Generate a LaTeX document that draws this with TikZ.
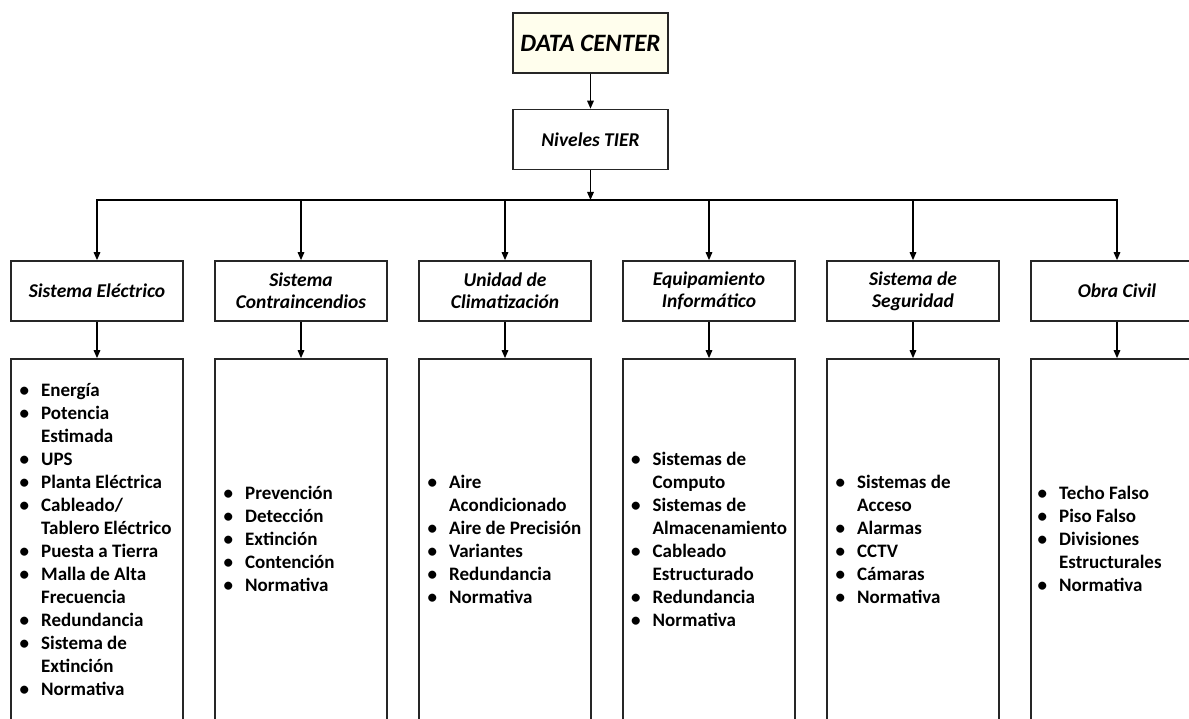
\documentclass[tikz,border=0pt]{standalone}
\usepackage{fontspec}
\setmainfont{Carlito}
\usetikzlibrary{arrows.meta}

\begin{document}
\begin{tikzpicture}[>={Triangle[length=8pt,width=6.5pt]}, x=1pt, y=1pt,
    box/.style={draw=black!85, line width=1.6pt, fill=white, minimum width=172pt, minimum height=60pt, align=center, inner sep=2pt, font=\fontsize{19.5}{22}\selectfont\bfseries\itshape},
    listbox/.style={draw=black!85, line width=1.6pt, minimum width=172pt, minimum height=364pt},
    items/.style={anchor=west, inner sep=0pt, font=\fontsize{19}{23}\selectfont\bfseries},
    link/.style={->, line width=1.5pt}]
    \useasboundingbox (0,0) rectangle (1189,-719);
    \clip (0,0) rectangle (1189,-719);

    % Top of the tree
    \node[box, minimum width=155pt, fill=yellow!7, font=\fontsize{25}{28}\selectfont\bfseries\itshape] (dc) at (590.5,-43) {DATA CENTER};
    \node[box, minimum width=155pt] (tier) at (590.5,-139.5) {Niveles TIER};
    \coordinate (bus) at (590.5,-200);
    \draw[link] (dc) -- (tier);
    \draw[link] (tier) -- (bus);

    % Subsystems
    \foreach \i/\hd in {0/{Sistema Eléctrico}, 1/{Sistema\\Contraincendios}, 2/{Unidad de\\Climatización},
                        3/{Equipamiento\\Informático}, 4/{Sistema de\\Seguridad}, 5/{Obra Civil}} {
        \node[box] (hd\i) at (97+204*\i,-291) {\hd};
        \node[listbox] (lb\i) at (97+204*\i,-541) {};
        \draw[link] (bus) -| (hd\i);
        \draw[link] (hd\i) -- (lb\i);
    }

    % Contents of each subsystem
    \node[items] (it0) at (19.5,-541) {\begin{tabular}{@{}l@{\hspace{12pt}}l@{}}
        \textbullet & Energía\\
        \textbullet & Potencia\\ & Estimada\\
        \textbullet & UPS\\
        \textbullet & Planta Eléctrica\\
        \textbullet & Cableado/\\ & Tablero Eléctrico\\
        \textbullet & Puesta a Tierra\\
        \textbullet & Malla de Alta\\ & Frecuencia\\
        \textbullet & Redundancia\\
        \textbullet & Sistema de\\ & Extinción\\
        \textbullet & Normativa
    \end{tabular}};
    \node[items] (it1) at (223.5,-541) {\begin{tabular}{@{}l@{\hspace{12pt}}l@{}}
        \textbullet & Prevención\\
        \textbullet & Detección\\
        \textbullet & Extinción\\
        \textbullet & Contención\\
        \textbullet & Normativa
    \end{tabular}};
    \node[items] (it2) at (427.5,-541) {\begin{tabular}{@{}l@{\hspace{12pt}}l@{}}
        \textbullet & Aire\\ & Acondicionado\\
        \textbullet & Aire de Precisión\\
        \textbullet & Variantes\\
        \textbullet & Redundancia\\
        \textbullet & Normativa
    \end{tabular}};
    \node[items] (it3) at (631,-541) {\begin{tabular}{@{}l@{\hspace{12pt}}l@{}}
        \textbullet & Sistemas de\\ & Computo\\
        \textbullet & Sistemas de\\ & Almacenamiento\\
        \textbullet & Cableado\\ & Estructurado\\
        \textbullet & Redundancia\\
        \textbullet & Normativa
    \end{tabular}};
    \node[items] (it4) at (835.5,-541) {\begin{tabular}{@{}l@{\hspace{12pt}}l@{}}
        \textbullet & Sistemas de\\ & Acceso\\
        \textbullet & Alarmas\\
        \textbullet & CCTV\\
        \textbullet & Cámaras\\
        \textbullet & Normativa
    \end{tabular}};
    \node[items] (it5) at (1037.5,-541) {\begin{tabular}{@{}l@{\hspace{12pt}}l@{}}
        \textbullet & Techo Falso\\
        \textbullet & Piso Falso\\
        \textbullet & Divisiones\\ & Estructurales\\
        \textbullet & Normativa
    \end{tabular}};
\end{tikzpicture}
\end{document}
